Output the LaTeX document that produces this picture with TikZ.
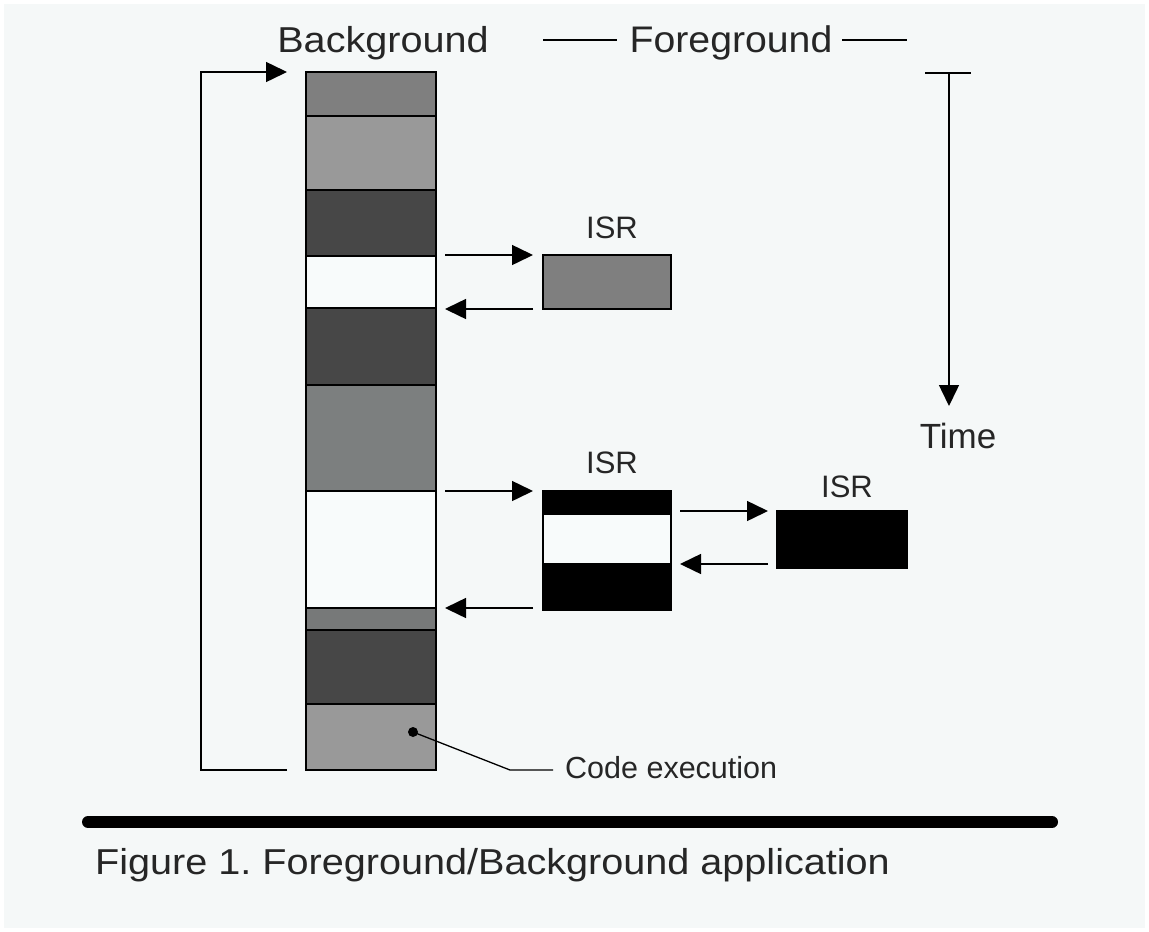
\documentclass[tikz,border=0pt]{standalone}
\usepackage{graphicx}
\usepackage{fontspec}
\setmainfont{Liberation Sans}
\usetikzlibrary{arrows.meta}
\frenchspacing
\definecolor{pagebg}{HTML}{F5F8F8}
\definecolor{gmid}{HTML}{7F7F7F}
\definecolor{glight}{HTML}{999999}
\definecolor{gdark}{HTML}{474747}
\definecolor{gmid2}{HTML}{7C7F7F}
\definecolor{gmid3}{HTML}{777979}
\definecolor{bandwhite}{HTML}{F8FBFB}
\begin{document}
\begin{tikzpicture}[x=1pt,y=-1pt,
  band/.style={draw=black,line width=1.6pt,minimum width=130pt,inner sep=0pt,outer sep=0pt,anchor=north west},
  isrbox/.style={draw=black,line width=1.6pt,minimum width=128pt,inner sep=0pt,outer sep=0pt,anchor=north west},
  flow/.style={line width=1.5pt,-{Triangle[length=21pt,width=20pt]}},
  plainline/.style={line width=1.5pt},
  lbl/.style={inner sep=0pt,anchor=base,text=black!85}
]
\useasboundingbox (0,0) rectangle (1149,932);
\fill[white] (0,0) rectangle (1149,932);
\fill[pagebg] (4,4) rectangle (1145,928);

% background column
\node[band,fill=gmid,minimum height=44pt] (b1) at (306,72) {};
\node[band,fill=glight,minimum height=74pt] (b2) at (306,116) {};
\node[band,fill=gdark,minimum height=66pt] (b3) at (306,190) {};
\node[band,fill=bandwhite,minimum height=52pt] (b4) at (306,256) {};
\node[band,fill=gdark,minimum height=77pt] (b5) at (306,308) {};
\node[band,fill=gmid2,minimum height=106pt] (b6) at (306,385) {};
\node[band,fill=bandwhite,minimum height=117pt] (b7) at (306,491) {};
\node[band,fill=gmid3,minimum height=22pt] (b8) at (306,608) {};
\node[band,fill=gdark,minimum height=74pt] (b9) at (306,630) {};
\node[band,fill=glight,minimum height=66pt] (b10) at (306,704) {};

% ISR boxes
\node[isrbox,fill=gmid,minimum height=54pt] (isr1) at (543,255) {};
\node[isrbox,fill=black,minimum height=23pt] (isr2a) at (543,491) {};
\node[isrbox,fill=bandwhite,minimum height=50pt] (isr2b) at (543,514) {};
\node[isrbox,fill=black,minimum height=46pt] (isr2c) at (543,564) {};
\node[isrbox,fill=black,minimum width=130pt,minimum height=57pt] (isr3) at (777,511) {};

% labels
\node[lbl,font=\fontsize{36}{40}\selectfont] (bgl) at (383,52) {\scalebox{1.1}[1]{Background}};
\node[lbl,font=\fontsize{37}{40}\selectfont] (fgl) at (731,52) {\scalebox{1.06}[1]{Foreground}};
\node[lbl,font=\fontsize{31}{34}\selectfont] (l1) at (612,238) {ISR};
\node[lbl,font=\fontsize{31}{34}\selectfont] (l2) at (612,473) {ISR};
\node[lbl,font=\fontsize{31}{34}\selectfont] (l3) at (847,497) {ISR};
\node[lbl,font=\fontsize{35}{38}\selectfont] (tl) at (958,448) {Time};
\node[lbl,anchor=base west,font=\fontsize{30.5}{34}\selectfont] (cl) at (565,778) {Code execution};
\node[lbl,anchor=base west,font=\fontsize{36}{40}\selectfont] (cap) at (95,874) {\scalebox{1.1}[1]{Figure 1. Foreground/Background application}};

% coordinates for connectors
\coordinate (a1s) at (445,255); \coordinate (a1e) at (533,255);
\coordinate (a2s) at (533,309); \coordinate (a2e) at (445,309);
\coordinate (a3s) at (445,491); \coordinate (a3e) at (533,491);
\coordinate (a4s) at (533,608); \coordinate (a4e) at (445,608);
\coordinate (a5s) at (680,511); \coordinate (a5e) at (768,511);
\coordinate (a6s) at (768,564); \coordinate (a6e) at (680,564);
\coordinate (lpb) at (287,770); \coordinate (lpbl) at (201,770);
\coordinate (lptl) at (201,72); \coordinate (lpt) at (287,72);
\coordinate (t0) at (949,73); \coordinate (t1) at (949,406);
\coordinate (tbl) at (925,73); \coordinate (tbr) at (971,73);
\coordinate (f1) at (543,40); \coordinate (f2) at (617,40);
\coordinate (f3) at (842,40); \coordinate (f4) at (907,40);
\coordinate (dot) at (413,732); \coordinate (ck) at (510,770); \coordinate (ce) at (553,770);
\coordinate (r0) at (88,822); \coordinate (r1) at (1052,822);

% arrows
\draw[flow] (a1s) -- (a1e);
\draw[flow] (a2s) -- (a2e);
\draw[flow] (a3s) -- (a3e);
\draw[flow] (a4s) -- (a4e);
\draw[flow] (a5s) -- (a5e);
\draw[flow] (a6s) -- (a6e);
\draw[flow] (lpb) -- (lpbl) -- (lptl) -- (lpt);
\draw[plainline] (tbl) -- (tbr);
\draw[flow] (t0) -- (t1);
\draw[plainline] (f1) -- (f2);
\draw[plainline] (f3) -- (f4);
\fill[black] (dot) circle (5pt);
\draw[line width=1.3pt] (dot) -- (ck) -- (ce);
\draw[line width=12pt,line cap=round] (r0) -- (r1);
\end{tikzpicture}
\end{document}
